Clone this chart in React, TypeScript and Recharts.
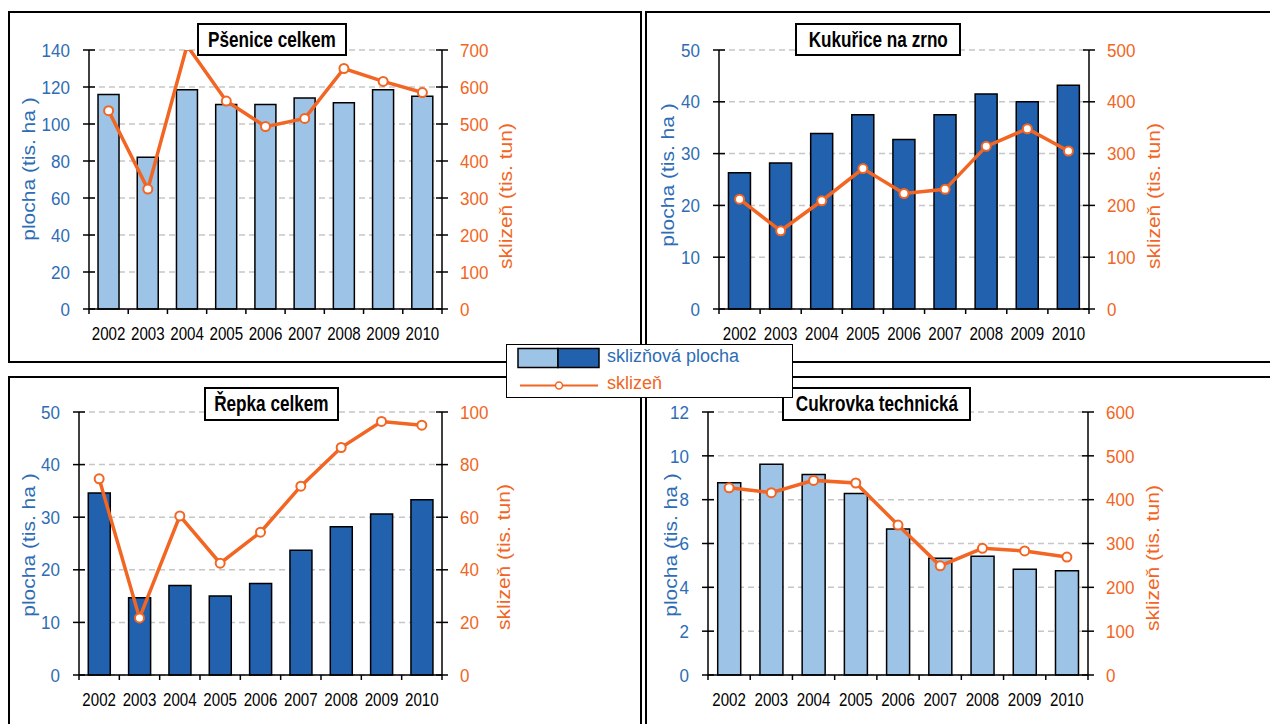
import React from 'react';
import { ComposedChart, Bar, Line, XAxis, YAxis, CartesianGrid } from 'recharts';

const years = ['2002', '2003', '2004', '2005', '2006', '2007', '2008', '2009', '2010'];

// sklizňová plocha (tis. ha) a sklizeň (tis. tun)
const psenicePlocha = [116, 82, 118.5, 110.5, 110.5, 114, 111.5, 118.5, 115];
const psoniceSklizen = [536, 324, 712, 562, 493, 515, 650, 615, 585];
const kukuricePlocha = [26.3, 28.2, 33.9, 37.5, 32.7, 37.5, 41.5, 40, 43.2];
const kukuriceSklizen = [212, 151, 209, 271, 223, 231, 314, 348, 305];
const repkaPlocha = [34.6, 14.7, 17.0, 15.0, 17.4, 23.7, 28.2, 30.6, 33.3];
const repkaSklizen = [74.6, 21.7, 60.5, 42.5, 54.3, 71.8, 86.5, 96.4, 95];
const cukrovkaPlocha = [8.77, 9.62, 9.15, 8.28, 6.66, 5.33, 5.42, 4.83, 4.76];
const cukrovkaSklizen = [427, 416, 444, 438, 342, 249, 289, 283, 269];

const psTicksL = [0, 20, 40, 60, 80, 100, 120, 140];
const psTicksR = [0, 100, 200, 300, 400, 500, 600, 700];
const kuTicksL = [0, 10, 20, 30, 40, 50];
const kuTicksR = [0, 100, 200, 300, 400, 500];
const reTicksL = [0, 10, 20, 30, 40, 50];
const reTicksR = [0, 20, 40, 60, 80, 100];
const cuTicksL = [0, 2, 4, 6, 8, 10, 12];
const cuTicksR = [0, 100, 200, 300, 400, 500, 600];

const BLUE = '#2E6DB5';
const ORANGE = '#F26522';
const LIGHT = '#9DC3E6';
const DARK = '#2161AE';
const FONT = "'Liberation Sans', Arial, sans-serif";

// the source image is a bit squeezed sideways, so the labels are too
const LeftTick = (props: any) => {
  const { x, y, payload } = props;
  const ax = x + 19;
  return (
    <g>
      <line x1={ax - 6} x2={ax + 6} y1={y} y2={y} stroke="#000" strokeWidth={1.5} />
      <text
        transform={`translate(${x},${y}) scale(0.92,1)`}
        dy="0.36em"
        textAnchor="end"
        fill={BLUE}
        fontSize={18.5}
        fontFamily={FONT}
      >
        {payload.value}
      </text>
    </g>
  );
};

const RightTick = (props: any) => {
  const { x, y, payload } = props;
  const ax = x - 18;
  return (
    <g>
      <line x1={ax - 6} x2={ax + 6} y1={y} y2={y} stroke="#000" strokeWidth={1.5} />
      <text
        transform={`translate(${x},${y}) scale(0.92,1)`}
        dy="0.36em"
        textAnchor="start"
        fill={ORANGE}
        fontSize={18.5}
        fontFamily={FONT}
      >
        {payload.value}
      </text>
    </g>
  );
};

const makeBottomTick = (band: number) => (props: any) => {
  const { x, y, payload, index } = props;
  const ay = y - 18;
  return (
    <g>
      <line x1={x - band / 2} x2={x - band / 2} y1={ay} y2={ay + 5} stroke="#000" strokeWidth={1.5} />
      {index === years.length - 1 && (
        <line x1={x + band / 2} x2={x + band / 2} y1={ay} y2={ay + 5} stroke="#000" strokeWidth={1.5} />
      )}
      <text
        transform={`translate(${x},${y}) scale(0.84,1)`}
        dy="0.71em"
        textAnchor="middle"
        fill="#000"
        fontSize={18}
        fontFamily={FONT}
      >
        {payload.value}
      </text>
    </g>
  );
};

interface PanelProps {
  title: string;
  plocha: number[];
  sklizen: number[];
  ticksL: number[];
  ticksR: number[];
  barColor: string;
  left: number;
  top: number;
  width: number;
  height: number;
  margin: { top: number; right: number; bottom: number; left: number };
  titleBox: { x: number; y: number; w: number; h: number };
  leftTitle: { x: number; y: number };
  rightTitle: { x: number; y: number };
  overflow?: boolean;
}

function AxisTitle({ x, y, text, color }: { x: number; y: number; text: string; color: string }) {
  return (
    <div
      style={{
        position: 'absolute',
        left: x,
        top: y,
        transform: 'translate(-50%, -50%) rotate(-90deg) scale(1, 0.9)',
        whiteSpace: 'nowrap',
        color,
        fontSize: 21,
        fontFamily: FONT,
        lineHeight: 1,
      }}
    >
      {text}
    </div>
  );
}

function Panel(p: PanelProps) {
  const data = years.map((year, i) => ({ year, plocha: p.plocha[i], sklizen: p.sklizen[i] }));
  const plotW = p.width - p.margin.left - p.margin.right - 120;
  const band = plotW / years.length;
  const maxL = p.ticksL[p.ticksL.length - 1];
  const maxR = p.ticksR[p.ticksR.length - 1];

  return (
    <>
      <div style={{ position: 'absolute', left: p.left, top: p.top }}>
        <ComposedChart width={p.width} height={p.height} data={data} margin={p.margin} barCategoryGap="23%">
          <CartesianGrid yAxisId="left" vertical={false} stroke="#c6c6c6" strokeWidth={1.5} strokeDasharray="6 4" />
          <XAxis
            dataKey="year"
            height={30}
            stroke="#000"
            strokeWidth={1.5}
            tickLine={false}
            tickSize={4}
            tickMargin={14}
            interval={0}
            tick={makeBottomTick(band)}
          />
          <YAxis
            yAxisId="left"
            width={60}
            domain={[0, maxL]}
            ticks={p.ticksL}
            interval={0}
            stroke="#000"
            strokeWidth={1.5}
            tickLine={false}
            tickSize={6}
            tickMargin={13}
            tick={LeftTick}
          />
          <YAxis
            yAxisId="right"
            orientation="right"
            width={60}
            domain={[0, maxR]}
            ticks={p.ticksR}
            interval={0}
            allowDataOverflow={p.overflow}
            stroke="#000"
            strokeWidth={1.5}
            tickLine={false}
            tickSize={6}
            tickMargin={12}
            tick={RightTick}
          />
          <Bar
            yAxisId="left"
            dataKey="plocha"
            fill={p.barColor}
            stroke="#000"
            strokeWidth={1.5}
            isAnimationActive={false}
          />
          <Line
            yAxisId="right"
            dataKey="sklizen"
            stroke={ORANGE}
            strokeWidth={3.5}
            dot={{ r: 4.5, fill: '#fff', stroke: ORANGE, strokeWidth: 2 }}
            isAnimationActive={false}
          />
        </ComposedChart>
      </div>
      <AxisTitle x={p.leftTitle.x} y={p.leftTitle.y} text="plocha (tis. ha )" color={BLUE} />
      <AxisTitle x={p.rightTitle.x} y={p.rightTitle.y} text="sklizeň (tis. tun)" color={ORANGE} />
      <div
        style={{
          position: 'absolute',
          left: p.titleBox.x,
          top: p.titleBox.y,
          width: p.titleBox.w,
          height: p.titleBox.h,
          boxSizing: 'border-box',
          border: '2px solid #000',
          background: '#fff',
          display: 'flex',
          alignItems: 'center',
          justifyContent: 'center',
          color: '#000',
          whiteSpace: 'nowrap',
        }}
      >
        <span
          style={{
            display: 'inline-block',
            transform: 'scaleX(0.78)',
            fontFamily: FONT,
            fontWeight: 'bold',
            fontSize: 22,
            lineHeight: 1,
            flexShrink: 0,
          }}
        >
          {p.title}
        </span>
      </div>
    </>
  );
}

const frame = (left: number, top: number, width: number, height: number): React.CSSProperties => ({
  position: 'absolute',
  left,
  top,
  width,
  height,
  boxSizing: 'border-box',
  border: '2px solid #000',
  background: '#fff',
});

export default function App() {
  return (
    <div
      style={{
        position: 'absolute',
        left: 0,
        top: 0,
        width: 1270,
        height: 724,
        overflow: 'hidden',
        background: '#fff',
        fontFamily: FONT,
      }}
    >
      <div style={frame(8, 11, 634, 352)} />
      <div style={frame(645, 11, 640, 352)} />
      <div style={frame(8, 376, 634, 360)} />
      <div style={frame(645, 376, 640, 360)} />

      <Panel
        title="Pšenice celkem"
        plocha={psenicePlocha}
        sklizen={psoniceSklizen}
        ticksL={psTicksL}
        ticksR={psTicksR}
        barColor={LIGHT}
        left={0}
        top={0}
        width={640}
        height={370}
        margin={{ top: 50, right: 138, bottom: 31, left: 29 }}
        titleBox={{ x: 197, y: 23, w: 150, h: 33 }}
        leftTitle={{ x: 27.5, y: 168.5 }}
        rightTitle={{ x: 505, y: 195.5 }}
        overflow
      />
      <Panel
        title="Kukuřice na zrno"
        plocha={kukuricePlocha}
        sklizen={kukuriceSklizen}
        ticksL={kuTicksL}
        ticksR={kuTicksR}
        barColor={DARK}
        left={640}
        top={0}
        width={630}
        height={370}
        margin={{ top: 50, right: 121, bottom: 31, left: 19 }}
        titleBox={{ x: 795, y: 23, w: 166, h: 33 }}
        leftTitle={{ x: 667, y: 174.5 }}
        rightTitle={{ x: 1153, y: 195.5 }}
      />
      <Panel
        title="Řepka celkem"
        plocha={repkaPlocha}
        sklizen={repkaSklizen}
        ticksL={reTicksL}
        ticksR={reTicksR}
        barColor={DARK}
        left={0}
        top={360}
        width={640}
        height={364}
        margin={{ top: 52, right: 138, bottom: 19, left: 19 }}
        titleBox={{ x: 204, y: 387, w: 135, h: 34 }}
        leftTitle={{ x: 27.5, y: 545 }}
        rightTitle={{ x: 503, y: 556.5 }}
      />
      <Panel
        title="Cukrovka technická"
        plocha={cukrovkaPlocha}
        sklizen={cukrovkaSklizen}
        ticksL={cuTicksL}
        ticksR={cuTicksR}
        barColor={LIGHT}
        left={640}
        top={360}
        width={630}
        height={364}
        margin={{ top: 52, right: 122, bottom: 19, left: 8 }}
        titleBox={{ x: 782, y: 387, w: 189, h: 34 }}
        leftTitle={{ x: 669.5, y: 545 }}
        rightTitle={{ x: 1151.5, y: 557.5 }}
      />

      <div
        style={{
          position: 'absolute',
          left: 506,
          top: 344,
          width: 287,
          height: 54,
          boxSizing: 'border-box',
          border: '1.5px solid #000',
          background: '#fff',
        }}
      >
        <svg width={284} height={51} style={{ position: 'absolute', left: 0, top: 0 }}>
          <rect x={11} y={3.5} width={40} height={19} fill={LIGHT} stroke="#000" strokeWidth={1.5} />
          <rect x={51} y={3.5} width={41} height={19} fill={DARK} stroke="#000" strokeWidth={1.5} />
          <text x={100} y={17} fill={BLUE} fontSize={18} fontFamily={FONT}>
            sklizňová plocha
          </text>
          <line x1={13} x2={91} y1={40.5} y2={40.5} stroke={ORANGE} strokeWidth={2} />
          <circle cx={52} cy={40.5} r={3.5} fill="#fff" stroke={ORANGE} strokeWidth={1.5} />
          <text x={100} y={44} fill={ORANGE} fontSize={18} fontFamily={FONT}>
            sklizeň
          </text>
        </svg>
      </div>
    </div>
  );
}
